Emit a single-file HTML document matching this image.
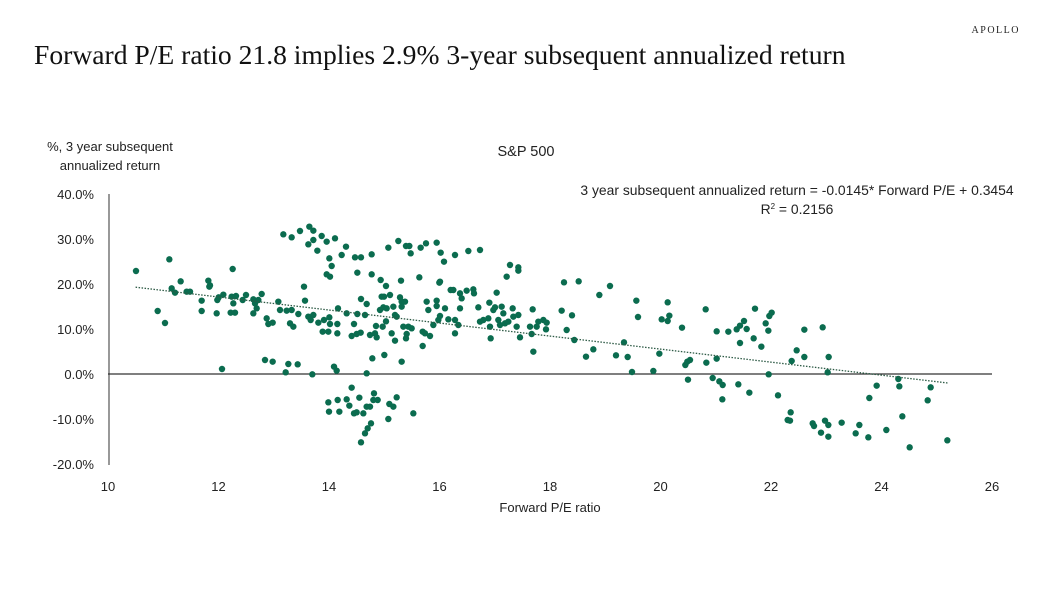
<!DOCTYPE html>
<html><head><meta charset="utf-8"><style>
body{margin:0;background:#fff;width:1050px;height:591px;overflow:hidden}
svg{display:block}
</style></head><body>
<svg id="s" width="1050" height="591" xmlns="http://www.w3.org/2000/svg" font-family="Liberation Sans, sans-serif">
<text x="1020" y="33" text-anchor="end" font-family="Liberation Serif, serif" font-size="10" letter-spacing="1.5" fill="#222">APOLLO</text>
<text x="34" y="64" font-family="Liberation Serif, serif" font-size="27.6" fill="#111">Forward P/E ratio 21.8 implies 2.9% 3-year subsequent annualized return</text>
<text x="526" y="156" text-anchor="middle" font-size="14.5" fill="#222">S&amp;P 500</text>
<text x="110" y="151" text-anchor="middle" font-size="13" fill="#222">%, 3 year subsequent</text>
<text x="110" y="170" text-anchor="middle" font-size="13" fill="#222">annualized return</text>
<text x="797" y="195" text-anchor="middle" font-size="13.9" fill="#222">3 year subsequent annualized return = -0.0145* Forward P/E + 0.3454</text>
<text x="797" y="214" text-anchor="middle" font-size="13.9" fill="#222">R<tspan font-size="8" dy="-5">2</tspan><tspan dy="5"> = 0.2156</tspan></text>
<g font-size="13" fill="#222" text-anchor="end">
<text x="94" y="199">40.0%</text><text x="94" y="244">30.0%</text><text x="94" y="289">20.0%</text><text x="94" y="334">10.0%</text><text x="94" y="379">0.0%</text><text x="94" y="424">-10.0%</text><text x="94" y="469">-20.0%</text>
</g>
<g font-size="13" fill="#222" text-anchor="middle">
<text x="108" y="491">10</text><text x="218.5" y="491">12</text><text x="329" y="491">14</text><text x="439.5" y="491">16</text><text x="550" y="491">18</text><text x="660.5" y="491">20</text><text x="771" y="491">22</text><text x="881.5" y="491">24</text><text x="992" y="491">26</text>
<text x="550" y="512">Forward P/E ratio</text>
</g>
<line x1="109" y1="194" x2="109" y2="465" stroke="#555" stroke-width="1.2"/>
<line x1="108" y1="374" x2="992" y2="374" stroke="#333" stroke-width="1.2"/>
<g id="d" fill="#0b6c4f"></g>
<line x1="135.6" y1="287.2" x2="947.8" y2="383.0" stroke="#2d5a45" stroke-width="1.3" stroke-dasharray="1.5,1.5"/>
</svg>
<script>
var a=[108,273,208,238,173,393,195,429,242,304,215,325,225,338,260,335,270,335,305,362,305,393,325,302,328,320,330,316,350,400,352,360,356,352,370,344,398,267,392,398,405,398,395,350,400,370,408,348,428,360,438,345,460,358,465,370,460,400,470,385,485,342,475,360,500,415,505,432,518,428,495,540,518,545,535,365,540,390,560,392,575,390,570,430,580,440,595,402,612,320,615,362,625,410,632,420,640,405,655,428,668,455,672,420,688,412,685,455,690,432,712,432,714,385,712,460,740,400,762,432,755,468,770,462,782,458,772,402,795,405,783,357,800,372,810,465,825,460,828,438,830,472,848,440,840,390,850,382,858,424,845,350,852,350,860,385,870,345,880,380,885,405,890,410,875,460,885,482,900,352,905,365,905,380,915,365,910,440,920,462,925,440,935,445,918,475,968,455,975,460,990,468,968,498,980,365,985,390,1000,435,1010,362,1010,378,1015,420,1020,408,1035,385,1045,418,1052,330,1060,330,1065,420,1075,435,1080,385,1080,340,1085,355,1065,460,1100,332,1120,328,1122,340,1135,382,1140,425,1150,420,1165,415,1170,440,1172,475,1168,368,1180,390,1190,338,1185,382,1195,420,1200,435,1205,380,1210,400,1215,430,1225,425,1238,385,1240,410,1250,440,1255,405,1260,472,1290,440,1298,388,1295,462,1300,515,1310,440,1315,425,1330,420,1340,428,1338,448,
550,163,575,172,600,153,628,140,640,152,665,168,640,180,625,193,652,212,680,185,705,175,688,235,695,258,725,225,738,200,765,232,783,232,815,223,680,283,690,290,772,278,815,283,865,203,895,183,918,198,928,198,932,220,962,203,978,190,1010,188,1022,218,1032,245,1065,225,1105,213,1140,210,958,292,1020,305,1018,308,842,300,858,318,903,302,1230,255,1255,262,1255,272,1220,290,
366,567,557,577,565,552,593,553,637,583,702,560,710,572,800,580,817,535,853,525,905,545,
755,623,685,667,687,695,713,660,718,695,740,658,748,677,778,653,762,700,770,697,790,700,800,680,810,680,820,660,822,640,833,660,868,672,880,680,890,652,865,717,940,700,813,730,803,745,795,760,783,787];
var b=[72,307,116,304,178,345,210,318,65,392,96,406,80,450,103,480,138,530,160,508,228,526,252,487,263,531,276,576,289,362,294,411,340,573,358,521,365,418,383,367,388,407,383,423,426,443,436,555,442,545,450,540,444,599,497,388,499,548,530,454,530,536,565,455,590,448,600,437,612,423,620,447,600,489,641,475,645,386,664,500,677,430,685,452,688,408,695,398,518,594,538,604,548,615,547,658,595,613,628,638,686,583,714,646,752,697,743,720,750,722,755,543,770,511,793,449,793,531,848,442,866,531,863,577,818,730,822,738,843,758,855,722,865,735,865,770,905,728,947,760,958,735,985,772,988,654,1010,617,1039,750,1075,597,1078,619,1087,709,1109,802,1163,661,1172,622,1222,781];
var g=document.getElementById('d'),h='';
for(var i=0;i<a.length;i+=2)h+='<circle cx="'+(100+a[i]/3)+'" cy="'+(180+a[i+1]/3)+'" r="3.2"/>';
for(var i=0;i<b.length;i+=2)h+='<circle cx="'+(540+b[i]/3)+'" cy="'+(180+b[i+1]/3)+'" r="3.2"/>';
g.innerHTML=h;
</script>
</body></html>
